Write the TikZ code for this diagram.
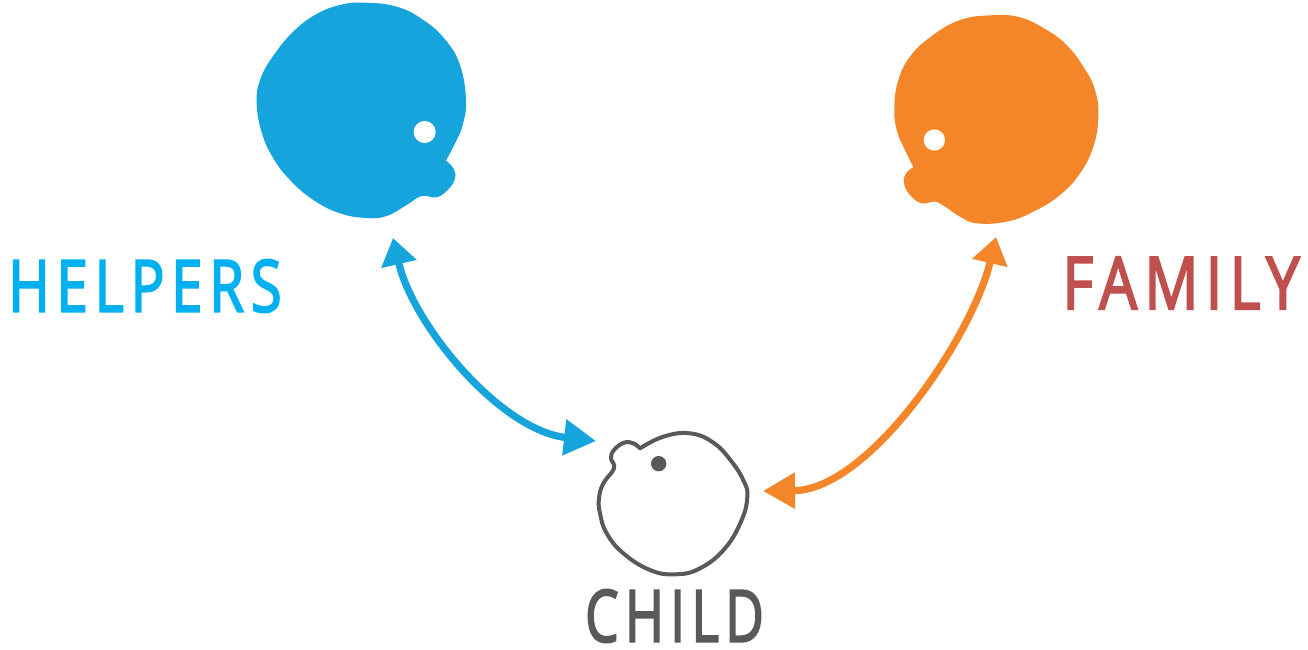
\documentclass[tikz,border=0pt]{standalone}
\usepackage{fontspec}
\usepackage{graphicx}
\usetikzlibrary{arrows.meta}
\newfontfamily\handfont[LetterSpace=12,FakeBold=3]{Open Sans}
\definecolor{blobblue}{HTML}{15A5DC}
\definecolor{bluetext}{HTML}{00B0F0}
\definecolor{bloborange}{HTML}{F58529}
\definecolor{familyred}{HTML}{C0504D}
\definecolor{childgrey}{HTML}{58595B}
\tikzset{
  word/.style={inner sep=0pt,outer sep=0pt,font=\handfont},
  twoway/.style={line width=5.4pt,
    {Triangle[length=20pt,width=26pt]}-{Triangle[length=24pt,width=26pt]}},
  zoomed/.style={scale=1/3},
  outline/.style={smooth,tension=0.72}
}
\begin{document}
\begin{tikzpicture}[x=0.75pt,y=-0.75pt]
\useasboundingbox (0,0) rectangle (1308,649);
% helper head
\begin{scope}[shift={(240,0)},zoomed]
\fill[blobblue] plot[outline] coordinates {(618,482)(640,505)(645,535)(625,568)(590,592)(545,588)(500,615)(440,648)(380,654)(300,640)(220,600)(150,540)(100,475)(66,400)(50,310)(62,235)(105,160)(165,90)(230,42)(300,15)(370,8)(470,20)(550,60)(615,118)(660,195)(678,300)(668,375)(645,430)(618,482)} -- cycle;
\fill[white] (554,396) circle (33);
\end{scope}
% family head
\begin{scope}[shift={(880,10)},zoomed]
\fill[bloborange] plot[outline] coordinates {(100,472)(75,420)(50,360)(43,290)(55,210)(90,140)(150,82)(235,32)(330,16)(420,22)(500,60)(560,105)(610,170)(645,240)(655,320)(640,410)(600,490)(540,555)(460,605)(380,635)(290,640)(240,620)(195,590)(165,575)(125,580)(90,555)(72,520)(78,490)(100,472)} -- cycle;
\fill[white] (163,390) circle (32);
\end{scope}
% child head
\begin{scope}[shift={(550,420)},zoomed]
\draw[childgrey,line width=3pt,fill=white,line join=round] plot[outline] coordinates {(270,85)(340,50)(420,40)(490,68)(545,125)(582,185)(592,230)(575,300)(525,385)(450,445)(375,463)(300,450)(220,400)(170,340)(150,280)(147,235)(160,190)(192,145)(183,115)(192,90)(222,68)(250,70)(270,85)} -- cycle;
\fill[childgrey] (326,131) circle (23);
\end{scope}
% labels
\node[word,text=bluetext] (helpers) at (145,286) {\resizebox{205pt}{39pt}{HELPERS}};
\node[word,text=familyred] (family) at (1181,283) {\resizebox{178pt}{39pt}{FAMILY}};
\node[word,text=childgrey] (child) at (674.5,616) {\resizebox{134pt}{39pt}{CHILD}};
% connectors
\coordinate (helperEnd) at (393,238);
\coordinate (childLeft) at (596,441);
\coordinate (familyEnd) at (996,237);
\coordinate (childRight) at (763,491);
\draw[twoway,blobblue] (helperEnd) .. controls (413,325) and (500,430) .. (childLeft);
\draw[twoway,bloborange] (familyEnd) .. controls (973,335) and (870,490) .. (childRight);
\end{tikzpicture}
\end{document}
